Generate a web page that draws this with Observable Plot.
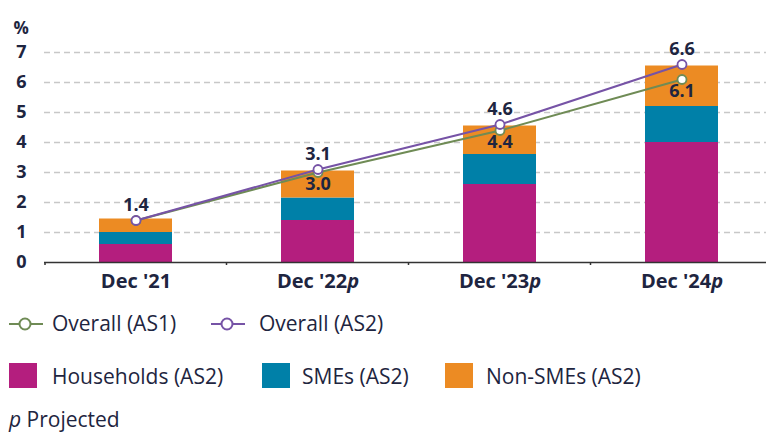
<!DOCTYPE html>
<html><head><meta charset="utf-8">
<script src="https://cdn.jsdelivr.net/npm/d3@7"></script>
<script src="https://cdn.jsdelivr.net/npm/@observablehq/plot@0.6"></script>
<style>
body{margin:0;overflow:hidden;background:#fff;font-family:"Open Sans","Noto Sans",sans-serif;color:#1e2540;}
#wrap{position:relative;width:766px;height:432px;}
#chart{position:absolute;left:0;top:0;}
.lg{position:absolute;font-size:21px;font-weight:500;line-height:22px;white-space:nowrap;transform:translateY(-50%);}
.sym{position:absolute;}
</style></head><body><div id="wrap"><div id="chart"></div><div id="legend"></div></div>
<script>
const categories = ["Dec '21","Dec '22p","Dec '23p","Dec '24p"];
const households = [0.6,1.4,2.6,4.0];
const smes = [0.4,0.75,1.0,1.2];
const nonSmes = [0.45,0.9,0.95,1.35];
const overallAS1 = [1.4,3.0,4.4,6.1];
const overallAS2 = [1.4,3.1,4.6,6.6];
const as1LabelShown = [false,true,true,true];
const yTicks = [0,1,2,3,4,5,6,7];
const gridTicks = [1,2,3,4,5,6,7];
const seriesNames = ["Households (AS2)","SMEs (AS2)","Non-SMEs (AS2)"];
const seriesColors = ["#b41e7e","#0080a8","#ec8b23"];
const lineNames = ["Overall (AS1)","Overall (AS2)"];
const lineColors = ["#6f8b55","#7653a6"];

const bars = [];
categories.forEach((c,i)=>{
  bars.push({cat:c, series:seriesNames[0], v:households[i]});
  bars.push({cat:c, series:seriesNames[1], v:smes[i]});
  bars.push({cat:c, series:seriesNames[2], v:nonSmes[i]});
});
const as1 = categories.map((c,i)=>({cat:c, v:overallAS1[i], show:as1LabelShown[i]}));
const as2 = categories.map((c,i)=>({cat:c, v:overallAS2[i]}));

function boundaryTicks(index, scales, values, dimensions) {
  const x = scales.x, y = scales.y;
  const g = d3.create("svg:g").attr("stroke","#333").attr("stroke-width",1.5);
  const step = x.step ? x.step() : 0, bw = x.bandwidth ? x.bandwidth() : 0;
  const y0 = y(0);
  const xs = [dimensions.marginLeft + 1];
  for (let i = 0; i < categories.length - 1; i++) xs.push(x(categories[i]) + bw/2 + step/2);
  xs.forEach(px => g.append("line").attr("x1",px).attr("x2",px).attr("y1",y0).attr("y2",y0+3));
  return g.node();
}

const fontStack = '"Open Sans","Noto Sans",sans-serif';
const ink = "#1e2540";
const plot = Plot.plot({
  width: 766, height: 300,
  marginLeft: 44, marginRight: -7, marginTop: 52, marginBottom: 38,
  style: {fontFamily: fontStack, fontSize: "18px", color: ink, background: "#fff", overflow: "visible"},
  x: {domain: categories, paddingInner: 0.6, paddingOuter: 0.3, label: null},
  y: {domain: [0,7], label: null},
  color: {domain: seriesNames, range: seriesColors},
  marks: [
    Plot.ruleY(gridTicks, {stroke: "#c8c8c8", strokeWidth: 1.5, strokeDasharray: "6,4"}),
    Plot.barY(bars, {x: "cat", y: "v", fill: "series"}),
    Plot.ruleY([0], {stroke: "#333", strokeWidth: 1.5}),
    boundaryTicks,
    Plot.axisY({ticks: yTicks, tickFormat: d => String(d), tickSize: 0, tickPadding: 18, fontWeight: "bold", fontSize: 18, label: null, textAnchor: "end"}),
    Plot.axisX({tickSize: 0, tickPadding: 11, fontWeight: "bold", fontSize: 20, label: null}),
    Plot.text(["%"], {frameAnchor: "top-left", dx: -31, dy: -31, fontWeight: "bold", fontSize: 17, textAnchor: "start", fill: ink}),
    Plot.line(as1, {x: "cat", y: "v", stroke: lineColors[0], strokeWidth: 2}),
    Plot.line(as2, {x: "cat", y: "v", stroke: lineColors[1], strokeWidth: 2}),
    Plot.dot(as1, {x: "cat", y: "v", r: 4.5, fill: "white", stroke: lineColors[0], strokeWidth: 1.8}),
    Plot.dot(as2, {x: "cat", y: "v", r: 4.5, fill: "white", stroke: lineColors[1], strokeWidth: 1.8}),
    Plot.text(as2, {x: "cat", y: "v", text: d => d3.format(".1f")(d.v), dy: -15, fontWeight: "bold", fontSize: 18, fill: ink}),
    Plot.text(as1.filter(d => d.show), {x: "cat", y: "v", text: d => d3.format(".1f")(d.v), dy: 12, fontWeight: "bold", fontSize: 18, fill: ink})
  ]
});
document.getElementById("chart").appendChild(plot);

// italic "p" in projected tick labels
d3.select(plot).selectAll('g[aria-label="x-axis tick label"] text').each(function(){
  const t = d3.select(this); const s = t.text();
  if (s.endsWith("p")) { t.text(s.slice(0,-1)); t.append("tspan").attr("font-style","italic").text("p"); }
});

// legend
const lg = document.getElementById("legend");
function addText(html, left, cy){ const d=document.createElement("div"); d.className="lg"; d.style.left=left+"px"; d.style.top=cy+"px"; d.innerHTML=html; lg.appendChild(d); }
function addLineSym(c, left, cy){
  const d=document.createElement("div"); d.className="sym"; d.style.left=left+"px"; d.style.top=(cy-8)+"px";
  d.innerHTML=`<svg width="34" height="16"><line x1="0" x2="34" y1="8" y2="8" stroke="${c}" stroke-width="2"/><circle cx="16" cy="8" r="5.5" fill="white" stroke="${c}" stroke-width="2"/></svg>`;
  lg.appendChild(d);
}
function addSq(c, left, top){
  const d=document.createElement("div"); d.className="sym"; d.style.left=left+"px"; d.style.top=top+"px";
  d.style.width="28px"; d.style.height="25px"; d.style.background=c; lg.appendChild(d);
}
addLineSym(lineColors[0], 9, 323); addText(lineNames[0], 52, 323);
addLineSym(lineColors[1], 211, 323); addText(lineNames[1], 259, 323);
const sqLeft = [9, 262, 445], txLeft = [52, 302, 486];
seriesNames.forEach((n,i)=>{ addSq(seriesColors[i], sqLeft[i], 363); addText(n, txLeft[i], 376); });
addText(`<i>p</i> Projected`, 9, 419);
</script></body></html>
